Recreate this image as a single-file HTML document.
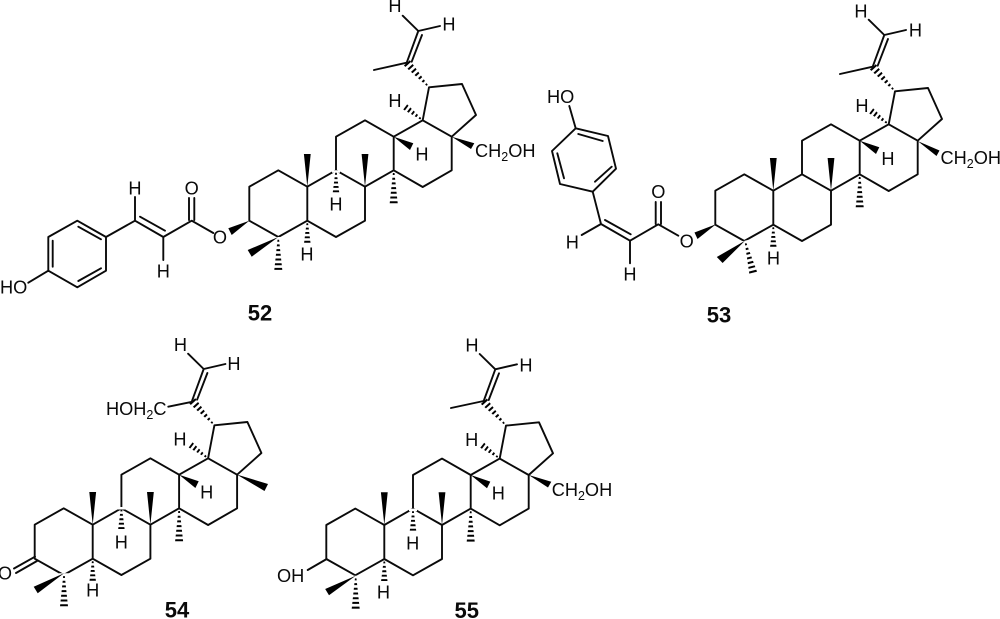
<!DOCTYPE html>
<html>
<head>
<meta charset="utf-8">
<style>
html,body{margin:0;padding:0;background:#fff;width:1000px;height:619px;overflow:hidden}
svg{display:block}
text{font-family:"Liberation Sans",sans-serif;font-size:18.2px;fill:#0a0a0a}
.n{font-weight:bold;font-size:22px;text-anchor:middle}
.m{text-anchor:middle}
.b{fill:none;stroke:#0a0a0a;stroke-width:1.9;stroke-linejoin:round;stroke-linecap:round}
.w{fill:#000;stroke:none}
</style>
</head>
<body>
<svg width="1000" height="619" viewBox="0 0 1000 619" xmlns="http://www.w3.org/2000/svg">
<defs>
<g id="hl"><polygon class="w" points="0,-.5 33,-4 33,4 0,.5"/><line x1="0" y1="0" x2="33" y2="0" stroke="#fff" stroke-width="10" stroke-dasharray="2.7 2"/></g>
<g id="hs"><polygon class="w" points="0,-.5 22,-3.2 22,3.2 0,.5"/><line x1="0" y1="0" x2="22" y2="0" stroke="#fff" stroke-width="8" stroke-dasharray="2.5 1.9"/></g>
<g id="sk">
<use href="#hs" transform="translate(307.3,220.7) rotate(90)"/>
<use href="#hl" transform="translate(393.7,170.3) rotate(90)"/>
<use href="#hs" transform="translate(422.7,120.3) rotate(-142.6)"/>
<use href="#hl" transform="translate(429,87.3) rotate(-132.2)"/>
<path class="b" d="M249.3 220.7V186.7L278.3 170.3L307.3 186.7V220.7L278.3 237ZM307.3 220.7L336 237L365 220.7V186.7L336 170.3L307.3 186.7M336 170.3V136.7L365 120.3L393.7 136.7V170.3L365 186.7M393.7 170.3L422.7 187L451.7 170.3V136.7L422.7 120.3L393.7 136.7M451.7 136.7L476 115L462 84L429 87.3L422.7 120.3M406.7 62.7L418.3 31M411.7 61.7L422 35M418.3 31L402.7 15.7M418.3 31L440 26"/>
<polygon class="w" points="307.3,186.7 303.9,154 310.7,154"/>
<polygon class="w" points="365,186.7 361.6,154 368.4,154"/>
<polygon class="w" points="393.7,136.7 410,150 413.3,143.3"/>
</g>
</defs>

<!-- 52 -->
<use href="#sk"/>
<use href="#hs" transform="translate(336,170.3) rotate(90)"/>
<use href="#hl" transform="translate(278.3,237) rotate(90)"/>
<path class="b" d="M406.7 62.7L374 70M48.3 237L77.3 220.7L106 237V270.7L77.3 287.3L48.3 270.7ZM78.3 226.7L101 239.3M52.7 240.7V266.7M78.3 281L101 268.3M48.3 270.7L28.3 282.7M106 237L135 220.7L163.3 237L191.7 220.7L213.3 233M140 216.7L165 230.7M135 220.7V197M163.3 237V260M189 220V198M194.3 220V198"/>
<polygon class="w" points="278.3,237 251.7,256.7 247.7,250"/>
<polygon class="w" points="249.3,220.7 228.3,228.3 231.7,235"/>
<polygon class="w" points="451.7,136.7 471,149 474.3,143.3"/>
<text class="m" x="395" y="12">H</text>
<text class="m" x="449" y="30.5">H</text>
<text class="m" x="395" y="107">H</text>
<text class="m" x="422" y="160.5">H</text>
<text class="m" x="336" y="210.5">H</text>
<text class="m" x="307" y="260.5">H</text>
<text x="475" y="157">CH<tspan dy="4" font-size="12.5">2</tspan><tspan dy="-4">OH</tspan></text>
<text class="m" x="135" y="194.5">H</text>
<text class="m" x="191.7" y="194.5">O</text>
<text class="m" x="163.3" y="277.5">H</text>
<text class="m" x="220" y="243.5">O</text>
<text x="0" y="293.5">HO</text>
<text class="n" x="260" y="320.5">52</text>

<!-- 53 -->
<use href="#sk" transform="translate(466,4)"/>
<use href="#hl" transform="translate(745,240.7) rotate(75.7)"/>
<path class="b" d="M872.7 66.7L840 74M592.7 191.7L616 168.7L608 136L575.7 128.3L552 151L560 184ZM595 181.7L611.7 166.7M602.7 141L578.3 134M557.3 153.3L564 178.3M575.7 128.3L569.3 106M592.7 191.7L601 224L630 240.7L658.3 224.3L678.3 235.7M605 220L630.7 234.3M601 224L581.7 235M630 240.7V263.3M655.7 224V202M661 224V202"/>
<polygon class="w" points="745,240.7 722.6,263 716.8,257"/>
<polygon class="w" points="716,224.3 694.5,232.5 697.5,239"/>
<polygon class="w" points="918,141.2 936.5,156 939.5,150.5"/>
<text class="m" x="861" y="17.5">H</text>
<text class="m" x="915.5" y="36.5">H</text>
<text class="m" x="862" y="112">H</text>
<text class="m" x="888" y="165">H</text>
<text class="m" x="773.5" y="264.5">H</text>
<text x="940.5" y="164">CH<tspan dy="4" font-size="12.5">2</tspan><tspan dy="-4">OH</tspan></text>
<text x="547" y="103">HO</text>
<text class="m" x="572.3" y="248.5">H</text>
<text class="m" x="658.3" y="198">O</text>
<text class="m" x="630" y="280.5">H</text>
<text class="m" x="686.7" y="247.5">O</text>
<text class="n" x="719" y="322.5">53</text>

<!-- 54 -->
<use href="#sk" transform="translate(-214.6,338)"/>
<use href="#hs" transform="translate(121.4,507) rotate(90)"/>
<use href="#hl" transform="translate(64,573.3) rotate(90)"/>
<path class="b" d="M168.3 406.7L192.7 401.7M35 556.7L14 568.5M37 561L16 573"/>
<polygon class="w" points="64,573.3 37.7,593.3 33.7,586.7"/>
<polygon class="w" points="236.7,474.5 264.5,491 268,484"/>
<text class="m" x="180.5" y="351">H</text>
<text class="m" x="234" y="370">H</text>
<text x="106" y="415">HOH<tspan dy="4" font-size="12.5">2</tspan><tspan dy="-4">C</tspan></text>
<text class="m" x="180" y="445.5">H</text>
<text class="m" x="206.7" y="498.5">H</text>
<text class="m" x="121.3" y="548.5">H</text>
<text class="m" x="92.7" y="596.5">H</text>
<text class="m" x="5" y="579.5">O</text>
<text class="n" x="177" y="617.5">54</text>

<!-- 55 -->
<use href="#sk" transform="translate(77,338.3)"/>
<use href="#hs" transform="translate(413,508.6) rotate(90)"/>
<use href="#hl" transform="translate(355.7,575.7) rotate(90)"/>
<path class="b" d="M483.7 401L451 408M326.7 559L307.7 570"/>
<polygon class="w" points="355.7,575.7 329,595.3 325.2,589"/>
<polygon class="w" points="528.7,475 548,487.5 551.3,481.8"/>
<text class="m" x="472" y="351.5">H</text>
<text class="m" x="526" y="371.5">H</text>
<text class="m" x="471.7" y="446">H</text>
<text class="m" x="498.3" y="499.5">H</text>
<text class="m" x="412.7" y="549.5">H</text>
<text class="m" x="383.5" y="598.5">H</text>
<text x="551.7" y="496">CH<tspan dy="4" font-size="12.5">2</tspan><tspan dy="-4">OH</tspan></text>
<text x="277" y="582">OH</text>
<text class="n" x="466.7" y="618">55</text>
</svg>
</body>
</html>
